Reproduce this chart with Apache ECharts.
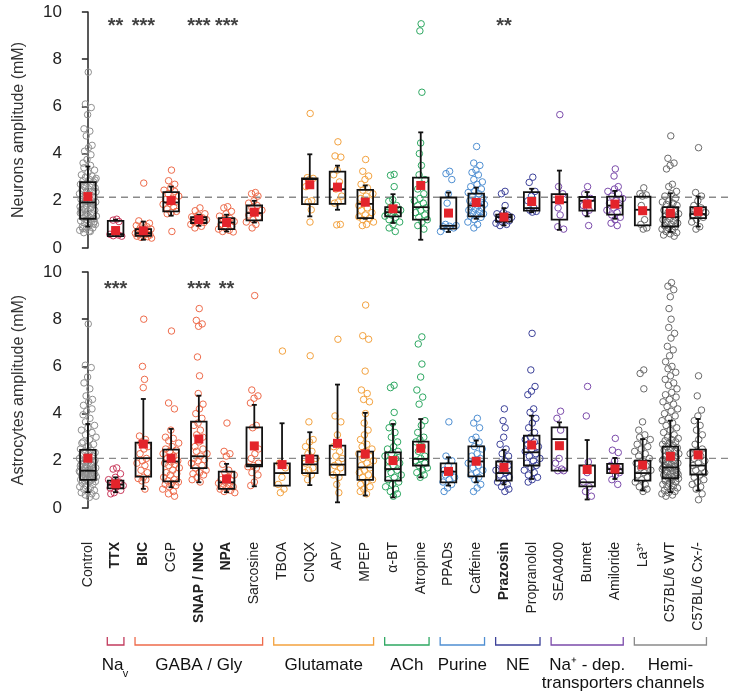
<!DOCTYPE html>
<html><head><meta charset="utf-8">
<script src="https://cdn.jsdelivr.net/npm/echarts/dist/echarts.min.js"></script>
<style>html,body{margin:0;padding:0;background:#fff}#c{width:730px;height:695px}</style>
</head><body><div id="c"></div>
<script>
const categories = ['Control','TTX','BIC','CGP','SNAP / NNC','NPA','Sarcosine','TBOA','CNQX','APV','MPEP','α-BT','Atropine','PPADs','Caffeine','Prazosin','Propranolol','SEA0400','Bumet','Amiloride','La³⁺','C57BL/6 WT','C57BL/6 Cx-/-'];
const boldCategories = ['TTX','BIC','SNAP / NNC','NPA','Prazosin'];
const categoryGroup = [0,1,2,2,2,2,2,3,3,3,3,4,4,5,5,6,6,7,7,7,8,8,8];
const groupColors = ['#8f8f8f','#c93a5c','#ee6b4b','#f3a23f','#2ea862','#4f8fd2','#3c4199','#7b4bab','#6a6a6a'];
const bracketColors = ['#999','#c23b5d','#ee6b4b','#f3a23f','#2ea862','#4f8fd2','#3c4199','#7b4bab','#8a8a8a'];
const groupLabels = [
  {name:'Na', sub:'v', from:1, to:1, g:1},
  {name:'GABA / Gly', from:2, to:6, g:2},
  {name:'Glutamate', from:7, to:10, g:3},
  {name:'ACh', from:11, to:12, g:4},
  {name:'Purine', from:13, to:14, g:5},
  {name:'NE', from:15, to:16, g:6},
  {name:'Na⁺ - dep.\ntransporters', from:17, to:19, g:7},
  {name:'Hemi-\nchannels', from:20, to:22, g:8}
];
const refNeuron = 2.15;
const refAstro = 2.1;
const starsNeuron = [[1,'**'],[2,'***'],[4,'***'],[5,'***'],[15,'**']];
const starsAstro = [[1,'***'],[4,'***'],[5,'**']];

// [low whisker, Q1, median, Q3, high whisker]
const neuronBox = [
  [0.91,1.24,1.93,2.79,3.45],[0.5,0.5,0.59,1.15,1.2],[0.35,0.52,0.63,0.8,1.12],[1.37,1.55,1.93,2.37,2.6],
  [0.94,1.06,1.2,1.31,1.41],[0.7,0.8,1.08,1.27,1.41],[1.08,1.17,1.48,1.8,2.0],null,
  [1.34,1.86,2.92,2.95,3.97],[1.62,1.87,2.49,3.24,3.49],[1.24,1.27,1.87,2.46,2.65],[1.06,1.34,1.52,1.73,2.28],
  [0.35,1.2,1.73,2.98,4.9],[0.68,0.82,0.94,2.14,2.35],[1.24,1.34,1.8,2.3,2.56],[0.96,1.12,1.31,1.41,1.69],
  [1.52,1.58,1.69,2.37,2.51],[0.77,1.2,1.94,2.28,3.28],[1.34,1.58,2.0,2.16,2.37],[1.24,1.41,1.8,2.18,2.42],
  [0.96,0.96,1.62,2.18,2.18],[0.68,0.91,1.31,1.73,2.32],[0.91,1.27,1.44,1.73,2.18]
];
const neuronMean = [2.18,0.74,0.73,2.01,1.2,1.08,1.52,null,2.68,2.58,1.94,1.66,2.65,1.48,1.93,1.31,1.97,2.04,1.86,1.86,1.58,1.48,1.55];
const astroBox = [
  [0.67,1.19,1.58,2.46,3.56],[0.67,0.83,0.99,1.16,1.3],[0.81,1.33,2.11,2.77,4.62],[0.88,1.13,1.97,2.47,3.35],
  [1.09,1.69,2.19,3.66,4.76],[0.67,0.81,1.09,1.54,1.87],[0.92,1.77,1.83,3.42,4.37],[0.95,0.95,1.48,1.89,3.59],
  [0.97,1.48,1.85,2.22,3.21],[0.24,1.4,1.84,2.64,5.23],[0.53,1.19,1.72,2.39,4.03],[0.45,1.16,1.65,2.36,3.56],
  [1.3,1.8,2.08,2.81,3.77],[0.95,1.09,1.54,1.89,2.15],[1.09,1.34,1.97,2.61,2.86],[1.0,1.16,1.48,1.97,2.46],
  [1.23,1.8,2.36,3.07,3.91],[1.58,1.58,2.92,3.42,3.63],[0.36,0.92,1.09,1.8,2.88],[1.23,1.48,1.65,1.87,2.12],
  [0.74,1.16,1.48,2.01,2.92],[0.67,1.26,1.72,2.6,3.7],[0.74,1.42,1.8,2.47,3.77]
];
const astroMean = [2.11,1.02,2.71,2.11,2.92,1.23,2.63,1.84,2.08,2.74,2.29,2.01,2.53,1.55,1.98,1.72,2.67,2.64,1.63,1.65,1.82,2.19,2.25];

const neuronPoints = [
  [7.45,6.1,5.95,5.65,5.05,4.95,4.75,4.35,4.25,4.1,3.95,3.75,3.6,3.5,3.4,3.3,3.2,3.1,3.05,3.0,2.95,2.9,2.85,2.8,2.75,2.7,2.65,2.6,2.55,2.5,2.45,2.4,2.35,2.3,2.25,2.2,2.15,2.1,2.05,2.0,1.98,1.95,1.92,1.9,1.85,1.8,1.75,1.7,1.65,1.6,1.55,1.5,1.45,1.4,1.35,1.3,1.28,1.25,1.2,1.15,1.1,1.05,1.0,0.95,0.9,0.85,0.8,0.75,0.7,0.65,1.12,1.38,1.62,1.88,2.12,2.38,0.72,0.82,1.02,1.18,1.48,1.72,2.62,2.88],
  [1.22,1.18,1.12,0.62,0.58,0.55,0.52,0.5],
  [2.75,1.15,1.05,1.0,0.95,0.9,0.85,0.8,0.75,0.72,0.7,0.65,0.62,0.6,0.58,0.55,0.52,0.5,0.48,0.45,0.42],
  [3.3,2.85,2.7,2.55,2.45,2.4,2.3,2.2,2.1,2.05,1.95,1.9,1.85,1.75,1.65,1.55,1.5,1.45,0.7],
  [1.7,1.58,1.45,1.4,1.32,1.28,1.25,1.2,1.18,1.12,1.08,1.05,1.0,0.92,0.85],
  [1.75,1.7,1.55,1.45,1.35,1.25,1.2,1.12,1.05,1.0,0.92,0.85,0.8,0.75,0.7,0.68],
  [2.35,2.3,2.2,2.0,1.9,1.8,1.7,1.6,1.5,1.4,1.3,1.2,1.1,1.0,0.85],
  [],
  [5.7,2.98,2.95,2.9,2.6,2.0,1.95,1.62,1.1],
  [4.5,3.9,3.85,3.3,3.1,2.8,2.5,2.2,1.95,1.9,1.0,0.98],
  [3.75,3.25,3.05,2.9,2.7,2.55,2.45,2.3,2.2,2.1,2.0,1.9,1.8,1.7,1.6,1.5,1.4,1.32,1.25,1.2,1.1,1.0,0.95],
  [3.12,3.08,2.6,2.05,1.98,1.8,1.7,1.6,1.55,1.5,1.45,1.4,1.35,1.3,1.2,1.1,1.0,0.85,0.7],
  [9.5,9.2,6.6,4.45,4.0,3.5,3.1,2.9,2.7,2.5,2.3,2.1,2.0,1.9,1.8,1.7,1.6,1.5,1.4,1.3,1.2,1.1,0.95,0.8],
  [3.25,3.15,2.9,2.3,1.9,1.5,1.0,0.95,0.92,0.9,0.85,0.8,0.7],
  [4.3,3.6,3.5,3.3,3.2,3.1,2.9,2.8,2.7,2.6,2.5,2.4,2.35,2.3,2.2,2.1,2.05,2.0,1.95,1.9,1.85,1.8,1.75,1.7,1.65,1.6,1.55,1.5,1.45,1.4,1.35,1.3,1.2,1.1,1.0,0.85],
  [2.4,2.3,1.8,1.5,1.45,1.4,1.35,1.3,1.25,1.2,1.15,1.1,1.05,1.0,0.95],
  [3.0,2.78,2.4,2.2,2.0,1.7,1.6,1.55,1.52],
  [5.65,2.6,2.3,2.0,1.7,1.4,0.9,0.8],
  [2.6,2.3,2.1,1.95,1.8,1.6,1.5,0.95],
  [3.35,3.05,2.6,2.5,2.4,2.3,2.2,2.1,2.0,1.9,1.8,1.7,1.6,1.5,1.4,1.3,1.2,1.05,0.95],
  [2.55,2.3,2.25,2.2,1.8,1.2,1.0,0.85,0.8],
  [4.75,3.8,3.6,3.5,3.35,2.7,2.6,2.4,2.3,2.2,2.1,2.0,1.95,1.9,1.85,1.8,1.7,1.6,1.55,1.5,1.45,1.4,1.35,1.3,1.25,1.2,1.15,1.1,1.05,1.0,0.95,0.9,0.85,0.8,0.75,0.7,0.65,0.6,0.55,0.5],
  [4.25,2.35,2.2,2.0,1.8,1.7,1.6,1.5,1.45,1.4,1.3,1.2,1.1,0.9,0.8]
];
const astroPoints = [
  [7.8,6.05,5.95,5.55,5.3,5.05,4.75,4.6,4.5,4.35,4.2,4.1,3.95,3.8,3.65,3.5,3.4,3.3,3.2,3.1,3.0,2.9,2.8,2.7,2.6,2.5,2.45,2.4,2.35,2.3,2.25,2.2,2.15,2.1,2.05,2.0,1.95,1.9,1.85,1.8,1.75,1.7,1.65,1.6,1.58,1.55,1.52,1.5,1.48,1.45,1.42,1.4,1.38,1.35,1.32,1.3,1.28,1.25,1.22,1.2,1.18,1.15,1.12,1.1,1.05,1.0,0.95,0.9,0.85,0.8,0.75,0.7,0.65,0.6,0.55,0.5,0.45,1.62,1.68,1.72,1.78,1.88,1.92,2.02,2.62,2.75,1.36,1.46,1.56],
  [1.7,1.65,1.45,1.3,1.2,1.1,1.0,0.95,0.9,0.85,0.75,0.65,0.6],
  [8.0,6.0,5.45,5.1,3.05,2.9,2.75,2.6,2.5,2.3,2.1,2.0,1.9,1.8,1.6,1.5,1.3,1.25,1.2,1.15,0.8],
  [7.5,4.45,4.2,3.3,3.0,2.95,2.85,2.75,2.6,2.5,2.45,2.4,2.3,2.2,2.1,2.0,1.95,1.9,1.85,1.8,1.7,1.6,1.5,1.45,1.4,1.3,1.2,1.15,1.1,1.05,1.0,0.95,0.9,0.8,0.7,0.6,0.5],
  [8.45,7.95,7.8,7.7,6.4,5.6,4.85,4.4,4.2,4.0,3.8,3.6,3.5,3.3,3.1,3.0,2.8,2.6,2.5,2.4,2.3,2.2,2.1,2.05,2.0,1.9,1.8,1.7,1.6,1.5,1.45,1.4,1.3,1.2,1.1],
  [3.6,2.4,2.3,2.2,1.85,1.6,1.5,1.4,1.3,1.2,1.15,1.1,1.05,1.0,0.95,0.9,0.85,0.8,0.75,0.7,0.65],
  [9.0,5.0,4.75,4.65,4.45,3.5,3.4,2.5,2.3,2.1,1.9,1.8,1.75,1.7,1.5,1.4,1.1,0.95],
  [6.65,1.9,1.7,1.3,1.0,0.8,0.65],
  [6.45,3.65,2.9,2.8,2.6,2.4,2.3,2.1,2.0,1.9,1.7,1.6,1.5,1.4,1.2],
  [7.15,3.9,3.65,3.1,2.6,2.4,2.2,2.1,1.9,1.8,1.7,1.5,1.4,1.3,1.0,0.65],
  [8.6,7.3,7.15,5.8,5.0,4.85,4.6,4.5,4.0,3.6,3.3,3.1,2.9,2.7,2.6,2.5,2.4,2.3,2.2,2.1,2.0,1.9,1.8,1.7,1.6,1.5,1.4,1.3,1.2,1.1,1.0,0.9,0.8,0.7,0.6],
  [5.2,5.1,4.05,3.6,3.4,3.2,3.0,2.8,2.6,2.5,2.4,2.3,2.2,2.1,2.0,1.9,1.8,1.7,1.6,1.5,1.4,1.3,1.2,1.1,1.0,0.9,0.8,0.7,0.6,0.5],
  [7.25,6.95,6.1,5.55,5.0,4.7,4.4,3.7,3.5,3.2,3.0,2.9,2.8,2.6,2.4,2.2,2.1,2.0,1.9,1.8,1.7,1.6,1.5,1.4,1.3],
  [3.65,2.2,2.0,1.8,1.6,1.5,1.4,1.3,1.2,1.1,1.0,0.85,0.7],
  [3.8,3.6,3.4,3.0,2.9,2.8,2.6,2.5,2.3,2.2,2.1,2.0,1.9,1.8,1.7,1.6,1.5,1.4,1.3,1.2,1.0,0.85,0.7],
  [4.2,3.7,3.4,3.0,2.7,2.5,2.3,2.2,2.0,1.9,1.8,1.7,1.6,1.5,1.4,1.3,1.2,1.1,1.0,0.9,0.8,0.7],
  [7.4,5.85,5.15,4.95,4.8,4.2,4.05,3.8,3.6,3.4,3.2,3.0,2.9,2.8,2.7,2.6,2.5,2.4,2.3,2.2,2.1,2.0,1.9,1.8,1.7,1.6,1.5,1.4,1.3,1.2,1.1],
  [4.1,3.8,3.3,2.1,1.9,1.65,1.58,1.58],
  [5.15,3.9,1.95,1.5,1.1,0.9,0.7,0.5],
  [2.95,2.45,2.35,2.0,1.8,1.7,1.6,1.5,1.4,1.2,1.0],
  [5.85,5.7,5.05,3.65,3.3,3.1,3.0,2.9,2.8,2.7,2.6,2.5,2.4,2.3,2.2,2.1,2.0,1.9,1.8,1.7,1.6,1.5,1.4,1.3,1.2,1.1,1.0,0.9,0.8,0.7],
  [9.55,9.4,9.25,8.95,8.45,8.0,7.65,7.4,7.2,6.85,6.7,6.45,6.2,6.0,5.9,5.75,5.6,5.45,5.3,5.2,5.05,4.9,4.8,4.7,4.6,4.5,4.4,4.3,4.2,4.1,4.0,3.9,3.8,3.7,3.6,3.5,3.4,3.3,3.2,3.1,3.0,2.95,2.9,2.85,2.8,2.75,2.7,2.65,2.6,2.55,2.5,2.45,2.4,2.35,2.3,2.25,2.2,2.15,2.1,2.05,2.0,1.95,1.9,1.85,1.8,1.75,1.7,1.65,1.6,1.55,1.5,1.45,1.4,1.35,1.3,1.25,1.2,1.15,1.1,1.05,1.0,0.95,0.9,0.85,0.8,0.75,0.7,0.65,0.6,0.55,0.5,1.62,1.68,1.72,1.78,1.52,1.42,1.32,1.22,1.12,1.88,2.02],
  [5.6,4.75,4.15,3.9,3.7,3.5,3.3,3.1,2.9,2.7,2.5,2.4,2.3,2.2,2.1,2.0,1.9,1.8,1.7,1.6,1.5,1.4,1.3,1.2,1.1,1.0,0.9,0.8,0.6,0.35]
];

const FONT = '"Liberation Sans", Arial, Helvetica, sans-serif';

// deterministic horizontal jitter scaled by local density (layout only)
function jitter(vals, i) {
  const v = vals[i];
  let k = 0;
  for (let j = 0; j < vals.length; j++) if (j !== i && Math.abs(vals[j] - v) < 0.3) k++;
  const amp = k === 0 ? 0.12 : 0.62 * Math.min(1, Math.max(0.55, k / 5));
  const u = ((i + 1) * 0.6180339887) % 1;
  return (u - 0.5) * amp;
}
function pointData(points) {
  const out = [];
  points.forEach((vals, c) => {
    vals.forEach((v, i) => out.push({value: [c + jitter(vals, i), v], itemStyle: {borderColor: groupColors[categoryGroup[c]]}}));
  });
  return out;
}
function boxData(box) {
  return box.map((b, c) => b ? [c].concat(b) : [c, '-', '-', '-', '-', '-']);
}
function meanData(m) { return m.map((v, c) => [c, v == null ? '-' : v]); }

function renderBox(params, api) {
  if (isNaN(api.value(1))) return;
  const x = api.value(0);
  const lo = api.coord([x, api.value(1)]), q1 = api.coord([x, api.value(2)]),
        md = api.coord([x, api.value(3)]), q3 = api.coord([x, api.value(4)]),
        hi = api.coord([x, api.value(5)]);
  const cx = lo[0], hw = 7.8, cap = 2.5;
  const st = {stroke: '#111', lineWidth: 1.8, fill: null};
  const ch = [];
  if (hi[1] < q3[1] - 0.5) {
    ch.push({type: 'line', shape: {x1: cx, y1: hi[1], x2: cx, y2: q3[1]}, style: st});
    ch.push({type: 'line', shape: {x1: cx - cap, y1: hi[1], x2: cx + cap, y2: hi[1]}, style: st});
  }
  if (lo[1] > q1[1] + 0.5) {
    ch.push({type: 'line', shape: {x1: cx, y1: q1[1], x2: cx, y2: lo[1]}, style: st});
    ch.push({type: 'line', shape: {x1: cx - cap, y1: lo[1], x2: cx + cap, y2: lo[1]}, style: st});
  }
  ch.push({type: 'rect', shape: {x: cx - hw, y: q3[1], width: hw * 2, height: q1[1] - q3[1]}, style: st});
  ch.push({type: 'line', shape: {x1: cx - hw, y1: md[1], x2: cx + hw, y2: md[1]}, style: st});
  return {type: 'group', children: ch};
}

const chart = echarts.init(document.getElementById('c'), null, {renderer: 'canvas'});
const yAxisBase = (gi, name) => ({
  gridIndex: gi, type: 'value', min: 0, max: 10, interval: 2, offset: 3,
  axisLine: {show: true, lineStyle: {color: '#222', width: 1.5}},
  axisTick: {show: true, length: 6, lineStyle: {color: '#222', width: 1.5}},
  axisLabel: {fontSize: 17, color: '#222', margin: 9, fontFamily: FONT},
  splitLine: {show: false},
  name: name, nameLocation: 'middle', nameGap: 44,
  nameTextStyle: {fontSize: 16, color: '#333', fontFamily: FONT}
});
const starSeries = (stars, xi, yi, val) => ({
  type: 'scatter', xAxisIndex: xi, yAxisIndex: yi, symbolSize: 1, silent: true,
  itemStyle: {color: 'rgba(0,0,0,0)'}, z: 10,
  data: stars.map(s => ({value: [s[0], val], name: s[1]})),
  label: {show: true, position: 'inside', formatter: p => p.name, fontSize: 20, fontWeight: 'bold', color: '#111', fontFamily: FONT}
});

const option = {
  animation: false,
  backgroundColor: '#fff',
  textStyle: {fontFamily: FONT},
  grid: [
    {left: 74, width: 638, top: 12, height: 236},
    {left: 74, width: 638, top: 272, height: 236}
  ],
  xAxis: [
    {gridIndex: 0, type: 'category', data: categories, show: false},
    {gridIndex: 1, type: 'category', data: categories,
     axisLine: {show: false}, axisTick: {show: false},
     axisLabel: {interval: 0, rotate: 90, margin: 34, fontSize: 14, color: '#222', fontFamily: FONT,
       formatter: v => boldCategories.indexOf(v) >= 0 ? '{b|' + v + '}' : v,
       rich: {b: {fontWeight: 'bold', fontSize: 14, color: '#222', fontFamily: FONT}}}},
    {gridIndex: 0, type: 'value', min: -0.5, max: 22.5, show: false},
    {gridIndex: 1, type: 'value', min: -0.5, max: 22.5, show: false}
  ],
  yAxis: [yAxisBase(0, 'Neurons amplitude (mM)'), yAxisBase(1, 'Astrocytes amplitude (mM)')],
  series: [
    {type: 'scatter', xAxisIndex: 2, yAxisIndex: 0, symbol: 'circle', symbolSize: 6.5, z: 2,
     itemStyle: {color: 'rgba(255,255,255,0)', borderWidth: 1, opacity: 1}, data: pointData(neuronPoints)},
    {type: 'scatter', xAxisIndex: 3, yAxisIndex: 1, symbol: 'circle', symbolSize: 6.5, z: 2,
     itemStyle: {color: 'rgba(255,255,255,0)', borderWidth: 1, opacity: 1}, data: pointData(astroPoints)},
    {type: 'custom', xAxisIndex: 2, yAxisIndex: 0, renderItem: renderBox, z: 3,
     encode: {x: 0, y: [1, 2, 3, 4, 5]}, data: boxData(neuronBox)},
    {type: 'custom', xAxisIndex: 3, yAxisIndex: 1, renderItem: renderBox, z: 3,
     encode: {x: 0, y: [1, 2, 3, 4, 5]}, data: boxData(astroBox)},
    {type: 'scatter', xAxisIndex: 2, yAxisIndex: 0, symbol: 'rect', symbolSize: 9, z: 4,
     itemStyle: {color: '#e3242b', opacity: 1}, data: meanData(neuronMean)},
    {type: 'scatter', xAxisIndex: 3, yAxisIndex: 1, symbol: 'rect', symbolSize: 9, z: 4,
     itemStyle: {color: '#e3242b', opacity: 1}, data: meanData(astroMean)},
    starSeries(starsNeuron, 2, 0, 9.4),
    starSeries(starsAstro, 3, 1, 9.26)
  ]
};
chart.setOption(option);

// annotations positioned through the chart's own scales
const g = [];
[[0, refNeuron], [1, refAstro]].forEach(([yi, v]) => {
  const y = chart.convertToPixel({yAxisIndex: yi}, v);
  g.push({type: 'line', z: 0, shape: {x1: 73, y1: y, x2: 728, y2: y},
          style: {stroke: '#8a8a8a', lineWidth: 1.3, lineDash: [7, 5]}});
});
const bracketY = 645, tickUp = 8, labelY = 665;
groupLabels.forEach(gr => {
  const x1 = chart.convertToPixel({xAxisIndex: 3}, gr.from - 0.3);
  const x2 = chart.convertToPixel({xAxisIndex: 3}, gr.to + 0.3);
  const col = bracketColors[gr.g];
  g.push({type: 'polyline', shape: {points: [[x1, bracketY - tickUp], [x1, bracketY], [x2, bracketY], [x2, bracketY - tickUp]]},
          style: {stroke: col, lineWidth: 1.3, fill: null}});
  const cx = (x1 + x2) / 2;
  if (gr.sub) {
    g.push({type: 'text', x: cx - 3, y: labelY, style: {text: gr.name, fill: '#111', font: '17px ' + FONT, align: 'center', verticalAlign: 'middle'}});
    g.push({type: 'text', x: cx + 10, y: labelY + 9, style: {text: gr.sub, fill: '#111', font: '11px ' + FONT, align: 'center', verticalAlign: 'middle'}});
  } else {
    g.push({type: 'text', x: cx, y: labelY - 9, style: {text: gr.name, fill: '#111', font: '17px ' + FONT, align: 'center', verticalAlign: 'top', lineHeight: 18}});
  }
});
chart.setOption({graphic: {elements: g}});
</script></body></html>
